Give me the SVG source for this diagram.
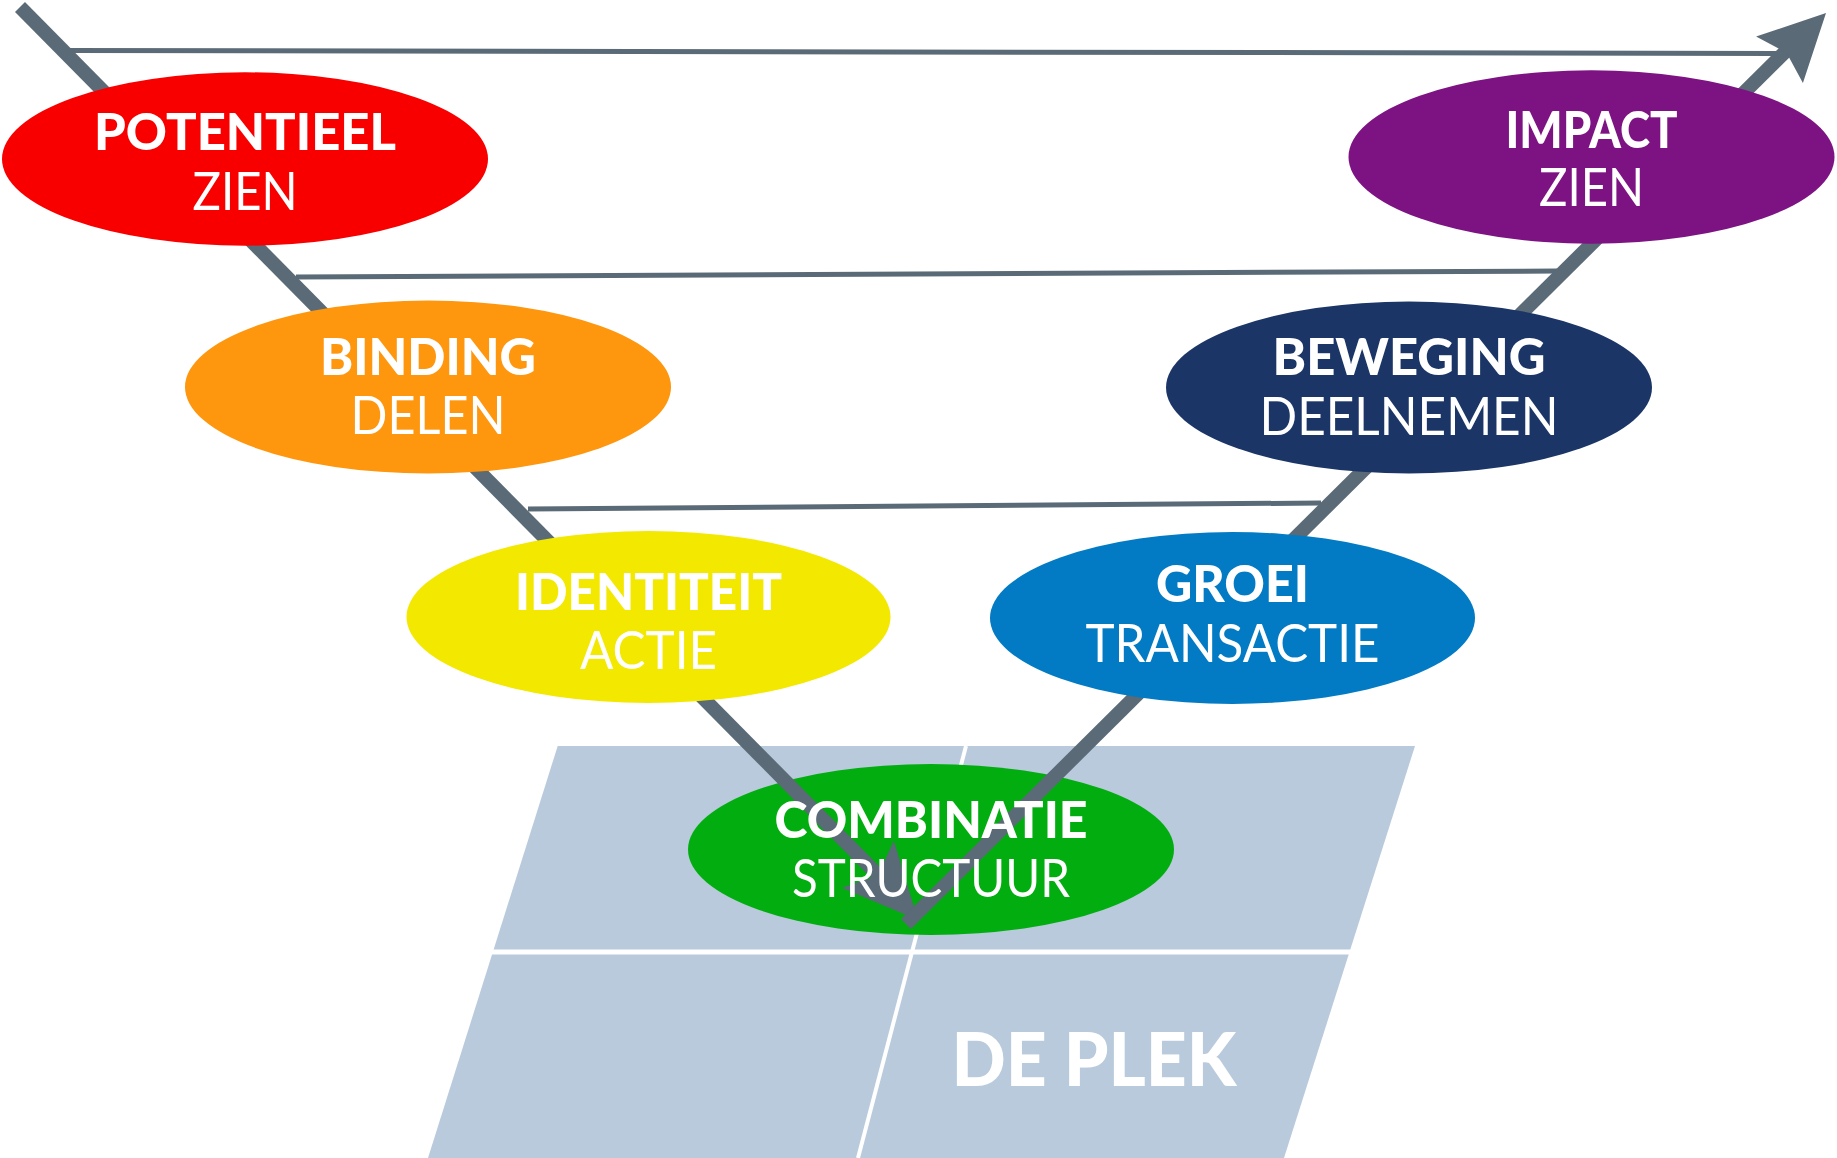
<svg xmlns="http://www.w3.org/2000/svg" width="1837" height="1158" viewBox="0 0 1837 1158">
<style>
.t1{font-family:Lato,"Liberation Sans",sans-serif;font-weight:900;font-size:51px;fill:#fff;text-anchor:middle}
.t2{font-family:Lato,"Liberation Sans",sans-serif;font-weight:400;font-size:52px;fill:#fff;text-anchor:middle}
.shaft{stroke:#5a6a77;stroke-width:14;fill:none;stroke-linecap:butt}
.rung{stroke:#5a6a77;stroke-width:5;fill:none}
.head{fill:#5a6a77}
</style>
<rect width="1837" height="1158" fill="#fff"/>
<g id="plek">
<polygon points="557.7,746 1415,746 1284,1158 428,1158" fill="#b8cadc"/>
<line x1="480" y1="952" x2="1365" y2="952" stroke="#fff" stroke-width="5"/>
<line x1="966" y1="746" x2="858" y2="1158" stroke="#fff" stroke-width="4"/>
<text x="1094" y="1086" font-family="Lato,'Liberation Sans',sans-serif" font-weight="900" font-size="74" fill="#fff" text-anchor="middle" textLength="285" lengthAdjust="spacingAndGlyphs">DE PLEK</text>
</g>
<g id="node-combinatie">
<ellipse cx="931" cy="849.5" rx="243" ry="85.5" fill="#02ad0f"/>
</g>
<g id="connectors">
<line class="rung" x1="70" y1="50.5" x2="1777" y2="53.5"/>
<line class="rung" x1="296" y1="277" x2="1557" y2="271"/>
<line class="rung" x1="528" y1="509" x2="1321" y2="503"/>
<line class="shaft" x1="20" y1="7" x2="880" y2="877"/>
<polygon class="head" points="0,0 -75,-35 -60,0 -75,35" transform="translate(918,920) rotate(48)"/>
<line class="shaft" x1="906" y1="924" x2="1788" y2="49"/>
<polygon class="head" points="0,0 -66,-33 -56,0 -66,33" transform="translate(1826,13) rotate(-45.2)"/>
</g>
<g id="node-potentieel">
<ellipse cx="245" cy="159" rx="243" ry="86.7" fill="#f80000"/>
<text class="t1" x="245" y="150" textLength="302" lengthAdjust="spacingAndGlyphs">POTENTIEEL</text>
<text class="t2" x="245" y="210" textLength="105" lengthAdjust="spacingAndGlyphs">ZIEN</text>
</g>
<g id="node-binding">
<ellipse cx="428" cy="387" rx="243" ry="86.5" fill="#fe960e"/>
<text class="t1" x="428" y="375" textLength="216" lengthAdjust="spacingAndGlyphs">BINDING</text>
<text class="t2" x="428" y="433.5" textLength="155" lengthAdjust="spacingAndGlyphs">DELEN</text>
</g>
<g id="node-identiteit">
<ellipse cx="648.5" cy="617" rx="242" ry="86" fill="#f3e800"/>
<text class="t1" x="648.5" y="610" textLength="267" lengthAdjust="spacingAndGlyphs">IDENTITEIT</text>
<text class="t2" x="648.5" y="669" textLength="137" lengthAdjust="spacingAndGlyphs">ACTIE</text>
</g>
<g id="node-groei">
<ellipse cx="1232.5" cy="618" rx="242.5" ry="86" fill="#027bc4"/>
<text class="t1" x="1232.5" y="602" textLength="153" lengthAdjust="spacingAndGlyphs">GROEI</text>
<text class="t2" x="1232.5" y="662" textLength="294" lengthAdjust="spacingAndGlyphs">TRANSACTIE</text>
</g>
<g id="node-beweging">
<ellipse cx="1409" cy="387.5" rx="243" ry="86" fill="#1b3566"/>
<text class="t1" x="1409" y="375" textLength="273" lengthAdjust="spacingAndGlyphs">BEWEGING</text>
<text class="t2" x="1409" y="434.5" textLength="299" lengthAdjust="spacingAndGlyphs">DEELNEMEN</text>
</g>
<g id="node-impact">
<ellipse cx="1591.5" cy="157" rx="243" ry="86.7" fill="#7d1282"/>
<text class="t1" x="1591.5" y="147.5" textLength="172" lengthAdjust="spacingAndGlyphs">IMPACT</text>
<text class="t2" x="1591.5" y="206" textLength="105" lengthAdjust="spacingAndGlyphs">ZIEN</text>
</g>
<g id="node-combinatie-label">
<text class="t1" x="931" y="838" textLength="313" lengthAdjust="spacingAndGlyphs">COMBINATIE</text>
<text class="t2" x="931" y="897" textLength="278" lengthAdjust="spacingAndGlyphs">STRUCTUUR</text>
</g>
</svg>
